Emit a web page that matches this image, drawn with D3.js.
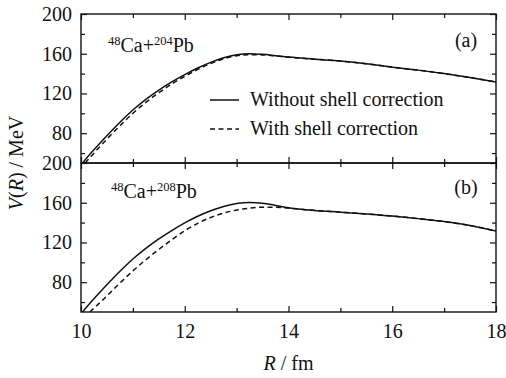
<!DOCTYPE html>
<html>
<head>
<meta charset="utf-8">
<script src="https://cdn.jsdelivr.net/npm/d3@7/dist/d3.min.js"></script>
<style>
  html, body { margin: 0; padding: 0; background: #fff; }
  svg { display: block; }
</style>
</head>
<body>
<svg id="chart" width="506" height="378" font-family="Liberation Serif"></svg>
<script>
// Separation distance R (fm) and interaction potential V(R) (MeV)
const rA = [10.03, 10.2, 10.4, 10.6, 10.8, 11.0, 11.25, 11.5, 11.75, 12.0, 12.25, 12.5, 12.75, 13.0, 13.25, 13.5, 13.75, 14.0, 14.5, 15.0, 15.5, 16.0, 16.5, 17.0, 17.5, 18.0];
// 48Ca + 204Pb, without shell correction
const vA_noShell = [50, 60.5, 72, 83, 93.5, 103.3, 114, 123.3, 131.6, 139, 145.6, 151.3, 155.9, 159, 160.1, 159.4, 158, 156.6, 154.5, 152.7, 150, 146.5, 143.5, 140, 136, 131.5];
const rA_shell = [10.08, 10.2, 10.4, 10.6, 10.8, 11.0, 11.25, 11.5, 11.75, 12.0, 12.25, 12.5, 12.75, 13.0, 13.25, 13.5, 13.75, 14.0, 14.5, 15.0, 15.5, 16.0, 16.5, 17.0, 17.5, 18.0];
// 48Ca + 204Pb, with shell correction
const vA_shell = [50, 57, 68.5, 79.5, 90, 100, 111, 120.8, 129.5, 137.2, 144.2, 150.2, 154.9, 157.9, 159, 158.8, 157.8, 156.5, 154.5, 152.7, 150, 146.5, 143.5, 140, 136, 131.5];

const rB = [10.03, 10.2, 10.4, 10.6, 10.8, 11.0, 11.25, 11.5, 11.75, 12.0, 12.25, 12.5, 12.75, 13.0, 13.25, 13.5, 13.75, 14.0, 14.5, 15.0, 15.5, 16.0, 16.5, 17.0, 17.5, 18.0];
// 48Ca + 208Pb, without shell correction
const vB_noShell = [50, 60.5, 72, 83, 93.5, 103.3, 114, 123.5, 132, 139.7, 146.4, 152, 156.3, 159.2, 160.3, 159.6, 157.3, 155, 152.2, 150.5, 148.7, 146.6, 144, 141, 137, 131.5];
const rB_shell = [10.17, 10.4, 10.6, 10.8, 11.0, 11.25, 11.5, 11.75, 12.0, 12.25, 12.5, 12.75, 13.0, 13.25, 13.5, 13.75, 14.0, 14.25, 14.5, 15.0, 15.5, 16.0, 16.5, 17.0, 17.5, 18.0];
// 48Ca + 208Pb, with shell correction
const vB_shell = [50, 61.2, 71.5, 81.6, 91.4, 102.6, 113, 122.8, 131.8, 139.3, 145.2, 149.6, 152.6, 154.6, 155.5, 155.4, 154.6, 153.4, 152.2, 150.5, 148.7, 146.6, 144, 141, 137, 131.5];

const xTickLabels = [10, 12, 14, 16, 18];
const xMinorTicks = [11, 13, 15, 17];
const yTickLabels = [80, 120, 160, 200];
const yMinorTicks = [60, 100, 140, 180];
const legendLabels = ["Without shell correction", "With shell correction"];

const FONT = "Liberation Serif";
const svg = d3.select("#chart");
const L = 81, R = 496, T = 14, MID = 163, B = 312;
const FS = 20;

const x = d3.scaleLinear().domain([10, 18]).range([L, R]);
const yA = d3.scaleLinear().domain([50, 200]).range([MID, T]);
const yB = d3.scaleLinear().domain([50, 200]).range([B, MID]);

function styleAxis(g) {
  g.attr("font-family", FONT).attr("font-size", FS);
  g.select(".domain").remove();
  g.selectAll("line").attr("stroke", "#111").attr("stroke-width", 1.2);
  g.selectAll("text").attr("font-family", FONT).attr("font-size", FS).attr("fill", "#111");
}
function txt(sel) {
  return sel.attr("font-family", FONT).attr("font-size", FS).attr("fill", "#111");
}

function panel(y, top, bottom, id, series, label, tag, labelY, tagY, labelX) {
  const defs = svg.append("defs");
  defs.append("clipPath").attr("id", id)
    .append("rect").attr("x", L).attr("y", top).attr("width", R - L).attr("height", bottom - top);

  // left axis: labelled majors + minors, ticks pointing inward
  svg.append("g").attr("transform", `translate(${L},0)`)
    .call(d3.axisLeft(y).tickValues(yTickLabels).tickSize(-6).tickPadding(9).tickFormat(d3.format("d")))
    .call(styleAxis);
  svg.append("g").attr("transform", `translate(${L},0)`)
    .call(d3.axisLeft(y).tickValues(yMinorTicks).tickSize(-4).tickFormat(""))
    .call(styleAxis);
  // right axis
  svg.append("g").attr("transform", `translate(${R},0)`)
    .call(d3.axisRight(y).tickValues(yTickLabels).tickSize(-6).tickFormat(""))
    .call(styleAxis);
  svg.append("g").attr("transform", `translate(${R},0)`)
    .call(d3.axisRight(y).tickValues(yMinorTicks).tickSize(-4).tickFormat(""))
    .call(styleAxis);
  // top and bottom x ticks, inward
  svg.append("g").attr("transform", `translate(0,${top})`)
    .call(d3.axisTop(x).tickValues(xTickLabels).tickSize(-6).tickFormat(""))
    .call(styleAxis);
  svg.append("g").attr("transform", `translate(0,${top})`)
    .call(d3.axisTop(x).tickValues(xMinorTicks).tickSize(-4).tickFormat(""))
    .call(styleAxis);
  svg.append("g").attr("transform", `translate(0,${bottom})`)
    .call(d3.axisBottom(x).tickValues(xTickLabels).tickSize(-6).tickFormat(""))
    .call(styleAxis);
  svg.append("g").attr("transform", `translate(0,${bottom})`)
    .call(d3.axisBottom(x).tickValues(xMinorTicks).tickSize(-4).tickFormat(""))
    .call(styleAxis);

  const line = d3.line().x(d => x(d[0])).y(d => y(d[1])).curve(d3.curveMonotoneX);
  const g = svg.append("g").attr("clip-path", `url(#${id})`);
  series.forEach(s => {
    g.append("path").datum(d3.zip(s.r, s.v)).attr("d", line)
      .attr("fill", "none").attr("stroke", "#111").attr("stroke-width", 1.5)
      .attr("stroke-dasharray", s.dash ? "5,3.5" : null);
  });

  svg.append("rect").attr("x", L).attr("y", top).attr("width", R - L).attr("height", bottom - top)
    .attr("fill", "none").attr("stroke", "#111").attr("stroke-width", 1.4);

  // reaction label with mass-number superscripts
  const t = txt(svg.append("text").attr("x", labelX).attr("y", labelY));
  t.append("tspan").text(label[0]).attr("font-size", 12.5).attr("dy", -7.5);
  t.append("tspan").text(label[1]).attr("dy", 7.5);
  t.append("tspan").text(label[2]).attr("font-size", 12.5).attr("dy", -7.5);
  t.append("tspan").text(label[3]).attr("dy", 7.5);

  txt(svg.append("text").attr("x", 466).attr("y", tagY).attr("text-anchor", "middle")).text(tag);
}

panel(yA, T, MID, "clipA",
  [{ r: rA, v: vA_noShell, dash: false }, { r: rA_shell, v: vA_shell, dash: true }],
  ["48", "Ca+", "204", "Pb"], "(a)", 52, 47, 108);
panel(yB, MID, B, "clipB",
  [{ r: rB, v: vB_noShell, dash: false }, { r: rB_shell, v: vB_shell, dash: true }],
  ["48", "Ca+", "208", "Pb"], "(b)", 198, 194, 111);

// x tick labels under the lower panel
svg.append("g").attr("transform", `translate(0,${B})`)
  .call(d3.axisBottom(x).tickValues(xTickLabels).tickSize(0).tickPadding(12).tickFormat(d3.format("d")))
  .call(styleAxis);

// legend
const leg = svg.append("g");
legendLabels.forEach((name, i) => {
  const ly = 100 + i * 29;
  leg.append("line").attr("x1", 210).attr("x2", 239).attr("y1", ly).attr("y2", ly)
    .attr("stroke", "#111").attr("stroke-width", 1.5)
    .attr("stroke-dasharray", i === 1 ? "5,3.5" : null);
  txt(leg.append("text").attr("x", 250).attr("y", ly + 6)).text(name);
});

// axis titles
const xt = txt(svg.append("text").attr("x", (L + R) / 2).attr("y", 370).attr("text-anchor", "middle"));
xt.append("tspan").text("R").attr("font-style", "italic");
xt.append("tspan").text(" / fm");

const yt = txt(svg.append("text").attr("transform", `translate(23,${MID}) rotate(-90)`).attr("text-anchor", "middle"));
yt.append("tspan").text("V").attr("font-style", "italic");
yt.append("tspan").text("(");
yt.append("tspan").text("R").attr("font-style", "italic");
yt.append("tspan").text(") / MeV");
</script>
</body>
</html>
